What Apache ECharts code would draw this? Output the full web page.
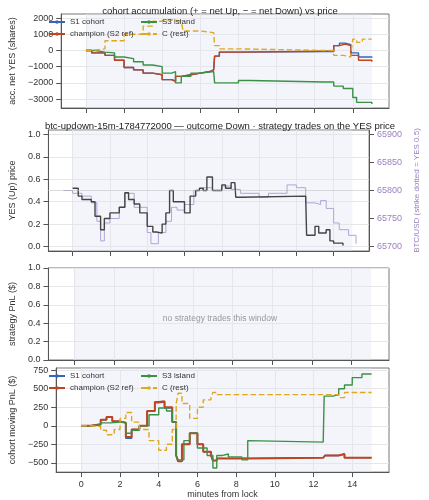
<!DOCTYPE html>
<html><head><meta charset="utf-8">
<script src="https://cdn.jsdelivr.net/npm/echarts@6/dist/echarts.min.js"></script>
<style>html,body{margin:0;background:#fff}#c{width:429px;height:500px}</style>
</head><body><div id="c"></div>
<script>
// ---- data (minutes from lock, value) ----
const accS1 = [[0,0],[0.3,-150],[1,-300],[1.5,-600],[2,-1050],[2.5,-1200],[3,-1400],[3.5,-1500],[4,-1800],[4.5,-1900],[4.7,-1600],[5,-1500],[5.5,-1400],[6,-1300],[6.5,-1200],[6.7,-1100],[6.75,-350],[7,-100],[8,-60],[12.5,-60],[13,300],[13.3,450],[13.6,350],[13.9,-150],[14.3,-400],[15,-450]];
const accChamp = [[0,0],[0.3,-150],[1,-300],[1.5,-600],[2,-1050],[2.5,-1200],[3,-1400],[3.5,-1500],[4,-1800],[4.5,-1900],[4.7,-1600],[5,-1500],[5.5,-1400],[6,-1300],[6.5,-1200],[6.7,-1100],[6.75,-350],[7,-100],[8,-50],[12.5,-50],[13,300],[13.3,400],[13.6,300],[13.9,-300],[14.3,-600],[15,-700]];
const accS3 = [[0,0],[0.5,-100],[1,-150],[1.5,-400],[2,-500],[2.5,-700],[3,-900],[3.5,-1000],[4,-1400],[4.5,-1300],[4.7,-2000],[5,-1600],[5.5,-1400],[6,-1300],[6.7,-1250],[6.75,-2000],[7,-2000],[8,-1850],[8.6,-1800],[8.7,-1950],[12.5,-1950],[13,-2200],[13.5,-2350],[14,-2900],[14.2,-3200],[15,-3300]];
const accC = [[0,0],[0.3,100],[1,600],[2,1000],[3,1500],[3.5,1800],[4,1900],[4.5,1800],[5,1900],[5.1,1200],[6,1100],[6.7,1000],[6.75,300],[7,100],[8,0],[12.5,0],[13,-300],[13.5,-400],[13.9,-200],[14,700],[14.2,500],[14.5,700],[15,700]];

const yesPrice = [[0,0.52],[0.3,0.45],[0.5,0.42],[1,0.40],[1.2,0.27],[1.5,0.15],[1.7,0.25],[2,0.3],[2.5,0.35],[2.8,0.48],[3,0.42],[3.3,0.38],[3.6,0.3],[4,0.18],[4.3,0.13],[4.5,0.12],[4.8,0.2],[5,0.3],[5.2,0.5],[5.4,0.4],[5.6,0.4],[6,0.3],[6.3,0.45],[6.6,0.5],[6.8,0.52],[7,0.5],[7.2,0.62],[7.5,0.5],[8,0.55],[8.2,0.52],[8.5,0.57],[8.7,0.58],[8.75,0.44],[9,0.45],[12.5,0.45],[12.55,0.1],[13,0.18],[13.2,0.12],[13.6,0.15],[13.8,0.05],[14,0.03],[14.5,0.01]];
const btcUsd = [[-0.5,65800],[0,65795],[0.5,65790],[1,65778],[1.3,65745],[1.5,65710],[1.7,65742],[2,65750],[2.5,65770],[2.8,65795],[3.3,65770],[4,65725],[4.2,65705],[4.6,65725],[5,65745],[5.3,65770],[5.6,65765],[6,65775],[6.5,65800],[7,65805],[7.5,65800],[8,65808],[8.5,65802],[9,65795],[10,65788],[10.5,65795],[11,65795],[11.5,65810],[12,65805],[12.5,65778],[13,65775],[13.3,65782],[13.6,65768],[14,65742],[14.3,65730],[14.8,65720],[15.2,65705]];

const pnlS1 = [[0,0],[0.5,20],[1,80],[1.3,120],[1.6,60],[2,40],[2.3,-170],[2.6,-50],[3,0],[3.4,200],[3.8,310],[4,320],[4.3,240],[4.7,50],[4.9,-400],[5,-480],[5.2,-250],[5.6,-100],[6,-250],[6.3,-350],[6.7,-400],[6.8,-470],[7,-440],[8,-440],[8.6,-430],[12.5,-430],[12.6,-400],[13.3,-380],[13.6,-430],[15,-430]];
const pnlChamp = [[0,0],[0.5,20],[1,80],[1.3,120],[1.6,60],[2,40],[2.3,-150],[2.6,-50],[3,0],[3.4,200],[3.8,320],[4,330],[4.3,250],[4.7,50],[4.9,-400],[5,-480],[5.2,-250],[5.6,-100],[6,-250],[6.3,-350],[6.7,-400],[6.8,-470],[7,-440],[8,-440],[8.6,-430],[12.5,-430],[12.6,-400],[13.3,-380],[13.6,-430],[15,-430]];
const pnlS3 = [[0,0],[0.5,10],[1,40],[1.5,50],[2,40],[2.3,-100],[2.6,-60],[3,0],[3.5,150],[4,240],[4.4,200],[4.7,50],[4.9,-400],[5,-460],[5.3,-200],[5.6,-100],[6,-300],[6.5,-400],[6.8,-570],[7,-400],[7.3,-380],[7.6,-420],[8,-420],[8.3,-460],[8.6,-200],[8.7,-220],[12.5,-220],[12.55,400],[13,420],[13.3,500],[13.6,550],[14,650],[14.5,700],[15,700]];
const pnlC = [[0,0],[0.5,-10],[1,-60],[1.3,-120],[1.7,-50],[2,100],[2.3,180],[2.6,50],[3,-50],[3.5,-200],[4,-330],[4.4,-250],[4.7,-50],[4.9,300],[5,440],[5.2,300],[5.6,100],[6,250],[6.3,350],[6.7,380],[6.8,450],[7,420],[8,420],[12.5,420],[13,420],[13.3,380],[13.6,450],[15,450]];

const xTicks = [0, 2, 4, 6, 8, 10, 12, 14];
const accTicks = [-3000, -2000, -1000, 0, 1000, 2000];
const priceTicks = [0, 0.2, 0.4, 0.6, 0.8, 1.0];
const btcTicks = [65700, 65750, 65800, 65850, 65900];
const pnlTicks = [-500, -250, 0, 250, 500, 750];

const 颜色 = { S1: "#3366bb", champ: "#c0451f", S3: "#3a9145", C: "#e0a820", price: "#444", btc: "#b3a3d6" };
const grids = [
  { left: 42, right: 40, top: 14, height: 94 },
  { left: 42, right: 40, top: 130, height: 121 },
  { left: 42, right: 40, top: 268, height: 92 },
  { left: 42, right: 40, top: 368, height: 105 },
];
const 负号 = (v) => String(v).replace("-", "−");
function 轴(ticks, fmt, color = "#333") {
  return {
    axisLine: { show: true, onZero: false, lineStyle: { color: "#555" } },
    axisTick: { show: true, customValues: ticks, lineStyle: { color: "#555" } },
    axisLabel: { fontSize: 9, color, customValues: ticks, formatter: fmt },
    splitLine: { show: true, lineStyle: { color: "#e6e6e6" } },
  };
}
const xAxes = grids.map((g, i) => {
  const a = 轴(xTicks, (v) => v);
  a.axisLabel.show = i === 3;
  return { type: "value", gridIndex: i, min: -1.3, max: 15.9, ...a, name: i === 3 ? "minutes from lock" : "", nameLocation: "middle", nameGap: 16, nameTextStyle: { fontSize: 9, color: "#333" } };
});
const 带 = { silent: true, data: [[{ xAxis: 0, itemStyle: { color: "rgba(225,230,245,0.4)" } }, { xAxis: 15 }]] };
const 线 = (name, data, color, xi, yi, extra = {}) => ({ name, type: "line", step: "end", data, xAxisIndex: xi, yAxisIndex: yi, showSymbol: false, lineStyle: { color, width: 1.4, ...(extra.lineStyle || {}) }, itemStyle: { color } });
const 图例 = (name, left, top) => ({ data: [name], left, top, itemWidth: 16, itemHeight: 2, textStyle: { fontSize: 8, color: "#333" }, selectedMode: false, padding: 0 });
const yName = (t, gap, color = "#333", size = 9) => ({ name: t, nameLocation: "middle", nameGap: gap, nameTextStyle: { fontSize: size, color } });

const btcAxis = 轴(btcTicks, (v) => v, "#9a7fc0");
btcAxis.splitLine = { show: false };

const option = {
  animation: false,
  title: [
    { text: "cohort accumulation (+ = net Up, − = net Down) vs price", left: 215, top: 1, textAlign: "center", textStyle: { fontSize: 9.5, fontWeight: "normal", color: "#222" } },
    { text: "btc-updown-15m-1784772000 — outcome Down · strategy trades on the YES price", left: 215, top: 116, textAlign: "center", textStyle: { fontSize: 9.5, fontWeight: "normal", color: "#222" } },
    { text: "no strategy trades this window", left: 215, top: 309, textAlign: "center", textStyle: { fontSize: 8.5, fontWeight: "normal", color: "#999" } },
  ],
  legend: [
    图例("S1 cohort", 48, 18), 图例("champion (S2 ref)", 48, 30), 图例("S3 island", 140, 18), 图例("C (rest)", 140, 30),
    图例("S1 cohort", 48, 372), 图例("champion (S2 ref)", 48, 384), 图例("S3 island", 140, 372), 图例("C (rest)", 140, 384),
  ],
  grid: grids.map((g) => ({ ...g, show: true, borderColor: "#777", borderWidth: 1 })),
  xAxis: xAxes,
  yAxis: [
    { type: "value", gridIndex: 0, min: -3550, max: 2250, ...轴(accTicks, 负号), ...yName("acc. net YES (shares)", 32) },
    { type: "value", gridIndex: 1, min: -0.04, max: 1.04, ...轴(priceTicks, (v) => v.toFixed(1)), ...yName("YES (Up) price", 24) },
    { type: "value", gridIndex: 1, position: "right", min: 65692, max: 65908, ...btcAxis, ...yName("BTC/USD (strike dotted = YES 0.5)", 33, "#9a7fc0", 8) },
    { type: "value", gridIndex: 2, min: 0, max: 1, ...轴(priceTicks, (v) => v.toFixed(1)), ...yName("strategy PnL ($)", 24) },
    { type: "value", gridIndex: 3, min: -625, max: 780, ...轴(pnlTicks, 负号), ...yName("cohort moving PnL ($)", 30) },
  ],
  series: [
    { ...线("S1 cohort", accS1, 颜色.S1, 0, 0), markArea: 带 },
    线("champion (S2 ref)", accChamp, 颜色.champ, 0, 0),
    线("S3 island", accS3, 颜色.S3, 0, 0),
    线("C (rest)", accC, 颜色.C, 0, 0, { lineStyle: { type: "dashed" } }),
    { ...线("BTC", btcUsd, 颜色.btc, 1, 2, { lineStyle: { width: 1 } }), markArea: 带 },
    { ...线("YES", yesPrice, 颜色.price, 1, 1), markLine: { silent: true, symbol: "none", label: { show: false }, lineStyle: { color: "#bbb", type: "dotted", width: 1 }, data: [{ yAxis: 0.5 }] } },
    { type: "line", xAxisIndex: 2, yAxisIndex: 3, data: [], markArea: 带 },
    { ...线("S1 cohort", pnlS1, 颜色.S1, 3, 4), markArea: 带 },
    线("champion (S2 ref)", pnlChamp, 颜色.champ, 3, 4, { lineStyle: { width: 2 } }),
    线("S3 island", pnlS3, 颜色.S3, 3, 4),
    线("C (rest)", pnlC, 颜色.C, 3, 4, { lineStyle: { type: "dashed" } }),
  ],
};
echarts.init(document.getElementById("c")).setOption(option);
</script></body></html>
